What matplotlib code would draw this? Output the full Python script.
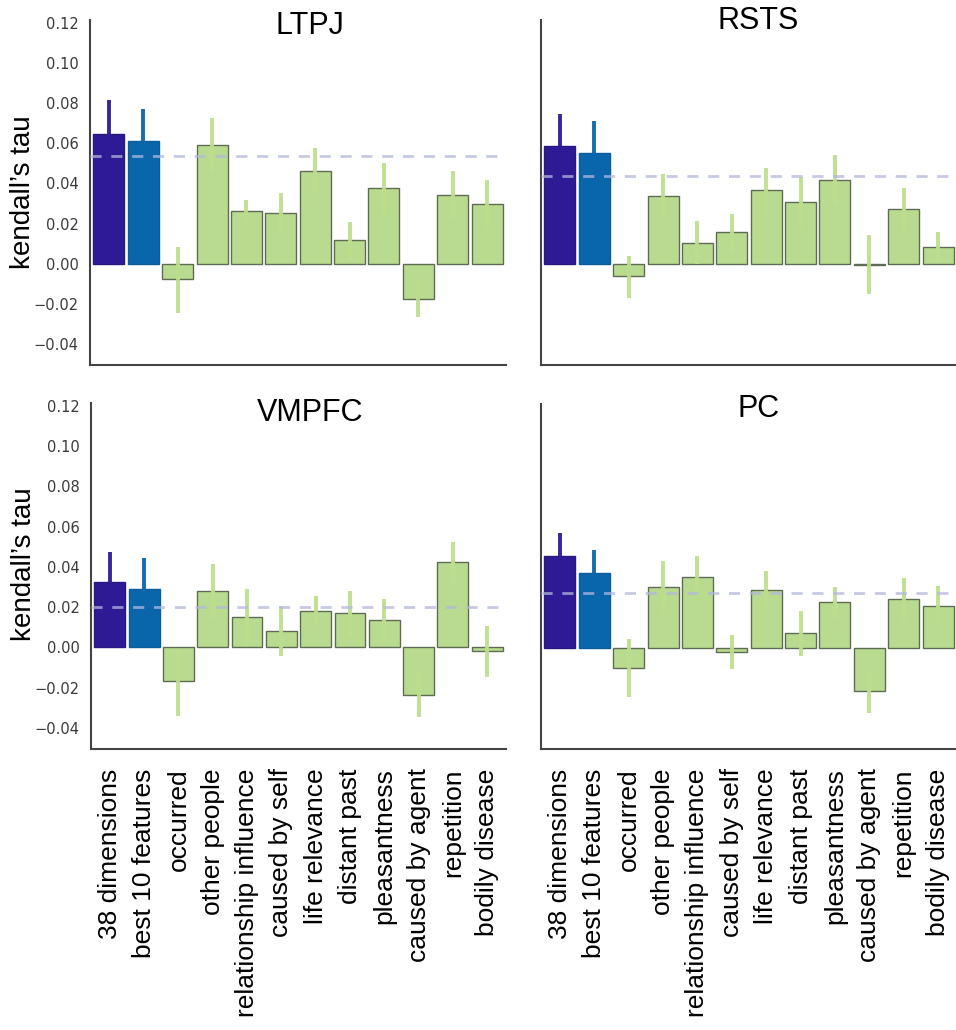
import numpy as np
import matplotlib.pyplot as plt

features = ["38 dimensions", "best 10 features", "occurred", "other people",
            "relationship influence", "caused by self", "life relevance",
            "distant past", "pleasantness", "caused by agent", "repetition",
            "bodily disease"]

regions = ["LTPJ", "RSTS", "VMPFC", "PC"]

# mean kendall's tau per feature set, with lower / upper CI bounds
ltpj_tau = [0.0649, 0.0612, -0.0076, 0.0594, 0.0262, 0.0255, 0.0463, 0.0116, 0.0377, -0.0177, 0.0344, 0.0298]
ltpj_lo = [0.0482, 0.0454, -0.0245, 0.0463, 0.0202, 0.0157, 0.0348, 0.0020, 0.0248, -0.0265, 0.0223, 0.0182]
ltpj_hi = [0.0816, 0.0770, 0.0083, 0.0725, 0.0319, 0.0352, 0.0577, 0.0207, 0.0501, -0.0091, 0.0460, 0.0417]

rsts_tau = [0.0587, 0.0554, -0.0063, 0.0336, 0.0102, 0.0156, 0.0369, 0.0306, 0.0419, -0.0004, 0.0273, 0.0081]
rsts_lo = [0.0429, 0.0396, -0.0171, 0.0231, 0.0000, 0.0058, 0.0248, 0.0174, 0.0298, -0.0152, 0.0165, 0.0003]
rsts_hi = [0.0745, 0.0712, 0.0038, 0.0447, 0.0215, 0.0248, 0.0478, 0.0430, 0.0541, 0.0141, 0.0377, 0.0157]

vmpfc_tau = [0.0327, 0.0292, -0.0165, 0.0281, 0.0152, 0.0084, 0.0182, 0.0171, 0.0137, -0.0235, 0.0426, -0.0020]
vmpfc_lo = [0.0178, 0.0141, -0.0342, 0.0141, 0.0013, -0.0045, 0.0108, 0.0055, 0.0030, -0.0345, 0.0327, -0.0147]
vmpfc_hi = [0.0476, 0.0443, -0.0010, 0.0413, 0.0290, 0.0207, 0.0256, 0.0278, 0.0240, -0.0127, 0.0524, 0.0104]

pc_tau = [0.0459, 0.0373, -0.0101, 0.0305, 0.0355, -0.0022, 0.0286, 0.0072, 0.0230, -0.0217, 0.0241, 0.0208]
pc_lo = [0.0345, 0.0257, -0.0248, 0.0172, 0.0259, -0.0104, 0.0188, -0.0042, 0.0144, -0.0324, 0.0135, 0.0106]
pc_hi = [0.0573, 0.0489, 0.0045, 0.0433, 0.0458, 0.0061, 0.0383, 0.0185, 0.0304, -0.0121, 0.0347, 0.0309]

# chance / reference level drawn as dashed line
baseline = [0.0538, 0.0437, 0.0201, 0.0274]

taus = [ltpj_tau, rsts_tau, vmpfc_tau, pc_tau]
los = [ltpj_lo, rsts_lo, vmpfc_lo, pc_lo]
his = [ltpj_hi, rsts_hi, vmpfc_hi, pc_hi]

bar_colors = ["#2e1a94", "#0a66ab"] + ["#b9db8f"] * 10
edge_colors = ["#2a1780", "#0a5c9a"] + ["#5e6b55"] * 10
err_colors = ["#2e1a94", "#0a66ab"] + ["#bddf8c"] * 10

W, H = 956, 1030
fig = plt.figure(figsize=(W / 100, H / 100), dpi=100)

# axes boxes in pixels: left, top, right, bottom
boxes = [(90, 20, 506, 365), (541, 20, 957, 365),
         (91, 403, 506, 749), (541, 404, 957, 749)]
# title anchor (axes fraction) and y-label centre for each panel
title_xy = [(0.529, 0.983), (0.522, 0.997), (0.529, 0.971), (0.522, 0.986)]
ylabel_y = [0.5, 0.5, 0.535, 0.535]

x = np.arange(len(features))
for k, (l, t, r, b) in enumerate(boxes):
    ax = fig.add_axes([l / W, 1 - b / H, (r - l) / W, (b - t) / H])
    tau = np.array(taus[k])
    lo = np.array(los[k])
    hi = np.array(his[k])
    ax.bar(x, tau, width=0.9, color=bar_colors, edgecolor=edge_colors,
           linewidth=1.0, zorder=2)
    for i in range(len(x)):
        ax.plot([x[i], x[i]], [lo[i], hi[i]], color=err_colors[i],
                lw=2.8, alpha=0.95, solid_capstyle="butt", zorder=3)
    # dashed reference line sits faintly over the bars
    ax.axhline(baseline[k], color="#b3b8dc", lw=2, ls=(0, (4, 3.5)),
               alpha=0.75, zorder=4)

    ax.set_xlim(-0.55, 11.55)
    ax.set_ylim(-0.0505, 0.1215)
    ax.text(title_xy[k][0], title_xy[k][1], regions[k], transform=ax.transAxes,
            ha="center", va="center", fontsize=22, family="Liberation Sans")
    for side in ["top", "right"]:
        ax.spines[side].set_visible(False)
    for side in ["left", "bottom"]:
        ax.spines[side].set_color("#444444")
        ax.spines[side].set_linewidth(1.5)
    ax.tick_params(length=0, pad=8)

    if k % 2 == 0:
        ax.set_yticks([-0.04, -0.02, 0.0, 0.02, 0.04, 0.06, 0.08, 0.10, 0.12])
        ax.set_yticklabels(["\u22120.04", "\u22120.02", "0.00", "0.02", "0.04",
                            "0.06", "0.08", "0.10", "0.12"],
                           fontsize=10.5, color="#3a3a3a")
        ax.set_ylabel("kendall\u2019s tau", fontsize=20, family="Liberation Sans")
        ax.yaxis.set_label_coords(-0.13, ylabel_y[k])
    else:
        ax.set_yticks([])

    if k >= 2:
        ax.set_xticks(x)
        ax.set_xticklabels(features, rotation=90, fontsize=19,
                           family="Liberation Sans")
        ax.tick_params(axis="x", pad=14)
    else:
        ax.set_xticks([])

fig.savefig("out.png", dpi=100)
